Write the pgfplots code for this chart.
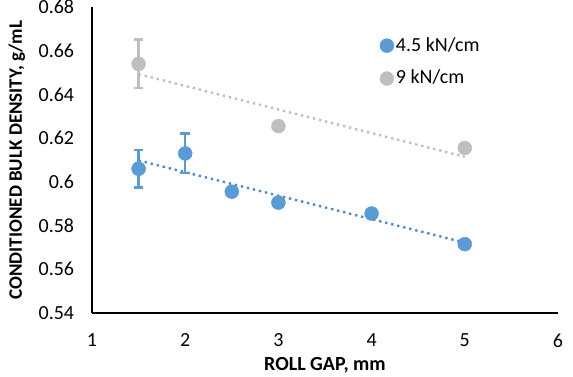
\documentclass[border=0pt]{standalone}
\usepackage{pgfplots}
\pgfplotsset{compat=1.18}
\usepackage{fontspec}
\setmainfont{Carlito}
\definecolor{cblue}{HTML}{5B9BD5}
\definecolor{cgrey}{HTML}{BFBFBF}
\begin{document}
\fontsize{20}{24}\selectfont
\begin{tikzpicture}[x=1pt,y=1pt]
\begin{axis}[
  anchor=south west, at={(0,0)},
  scale only axis, width=466pt, height=306pt,
  xmin=1, xmax=6, ymin=0.54, ymax=0.68,
  xtick={1,2,3,4,5,6}, ytick={0.54,0.56,0.58,0.6,0.62,0.64,0.66,0.68},
  yticklabel style={/pgf/number format/fixed, /pgf/number format/precision=2},
  /pgf/number format/assume math mode=true,
  axis lines=left, axis line style={-, black, line width=1.3pt},
  major tick length=0pt,
  tick label style={font=\fontsize{20}{24}\selectfont},
  xticklabel style={yshift=-14pt},
  yticklabel style={xshift=-11pt},
  xlabel={\textbf{ROLL GAP, mm}},
  ylabel={\textbf{CONDITIONED BULK DENSITY, g/mL}},
  xlabel style={font=\fontsize{20}{24}\selectfont, yshift=4pt},
  ylabel style={font=\fontsize{19}{23}\selectfont, yshift=0pt},
  legend style={draw=none, fill=none, at={(0.611,0.915)}, anchor=north west, font=\fontsize{20}{24}\selectfont, row sep=12pt},
  legend cell align=left,
  clip=false,
]
% trendlines
\addplot[cgrey, line width=2.4pt, dash pattern=on 2.4pt off 3.8pt, forget plot] coordinates {(1.5,0.6493) (5,0.6115)};
\addplot[cblue!90!black, line width=2.4pt, dash pattern=on 2.4pt off 3.8pt, forget plot] coordinates {(1.5,0.6098) (5,0.5722)};
% blue series
\addplot[only marks, mark=*, mark size=7pt, color=cblue, mark options={fill=cblue, draw=cblue},
  error bars/.cd, y dir=both, y explicit, error bar style={line width=2.6pt, cblue}, error mark options={rotate=90, mark size=4.8pt, line width=2.6pt, cblue}]
  coordinates {
  (1.5,0.606) +- (0,0.0085)
  (2,0.613) +- (0,0.009)
  (2.5,0.5955) +- (0,0)
  (3,0.5905) +- (0,0)
  (4,0.5855) +- (0,0)
  (5,0.5715) +- (0,0)
  };
\addlegendentry{4.5 kN/cm}
\addplot[only marks, mark=*, mark size=7pt, color=cgrey, mark options={fill=cgrey, draw=cgrey},
  error bars/.cd, y dir=both, y explicit, error bar style={line width=2.6pt, cgrey}, error mark options={rotate=90, mark size=4.8pt, line width=2.6pt, cgrey}]
  coordinates {
  (1.5,0.654) +- (0,0.011)
  (3,0.6255) +- (0,0)
  (5,0.6155) +- (0,0)
  };
\addlegendentry{9 kN/cm}
\end{axis}
\pgfresetboundingbox
\useasboundingbox (-92,-63) rectangle (481,313);
\end{tikzpicture}
\end{document}
